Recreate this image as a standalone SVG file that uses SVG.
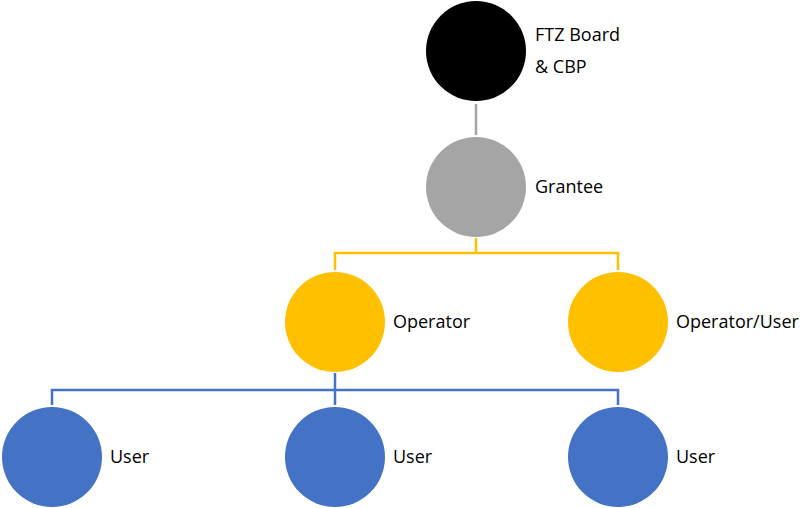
<svg xmlns="http://www.w3.org/2000/svg" width="801" height="508" viewBox="0 0 801 508">
<style>
text{font-family:"Open Sans","Liberation Sans",sans-serif;font-size:18px;fill:#000}
.c{fill:none;stroke-width:2.5}
</style>
<rect width="801" height="508" fill="#fff"/>
<g id="connectors">
<path class="c" stroke="#A5A5A5" d="M476 104V135"/>
<path class="c" stroke="#FFC000" d="M476 238V253H335V270M476 253H618V270"/>
<path class="c" stroke="#4472C4" d="M335 373V390H52V405M335 390V405M335 390H618V405"/>
</g>
<g id="ftz"><circle cx="476" cy="51" r="50" fill="#000"/><text x="535" y="41">FTZ Board</text><text x="535" y="73">&amp; CBP</text></g>
<g id="grantee"><circle cx="476" cy="187" r="50" fill="#A5A5A5"/><text x="535" y="193">Grantee</text></g>
<g id="operator"><circle cx="335" cy="322" r="50" fill="#FFC000"/><text x="393" y="328">Operator</text></g>
<g id="operatoruser"><circle cx="618" cy="322" r="50" fill="#FFC000"/><text x="676" y="328">Operator/User</text></g>
<g id="user1"><circle cx="52" cy="457" r="50" fill="#4472C4"/><text x="110" y="463">User</text></g>
<g id="user2"><circle cx="335" cy="457" r="50" fill="#4472C4"/><text x="393" y="463">User</text></g>
<g id="user3"><circle cx="618" cy="457" r="50" fill="#4472C4"/><text x="676" y="463">User</text></g>
</svg>
